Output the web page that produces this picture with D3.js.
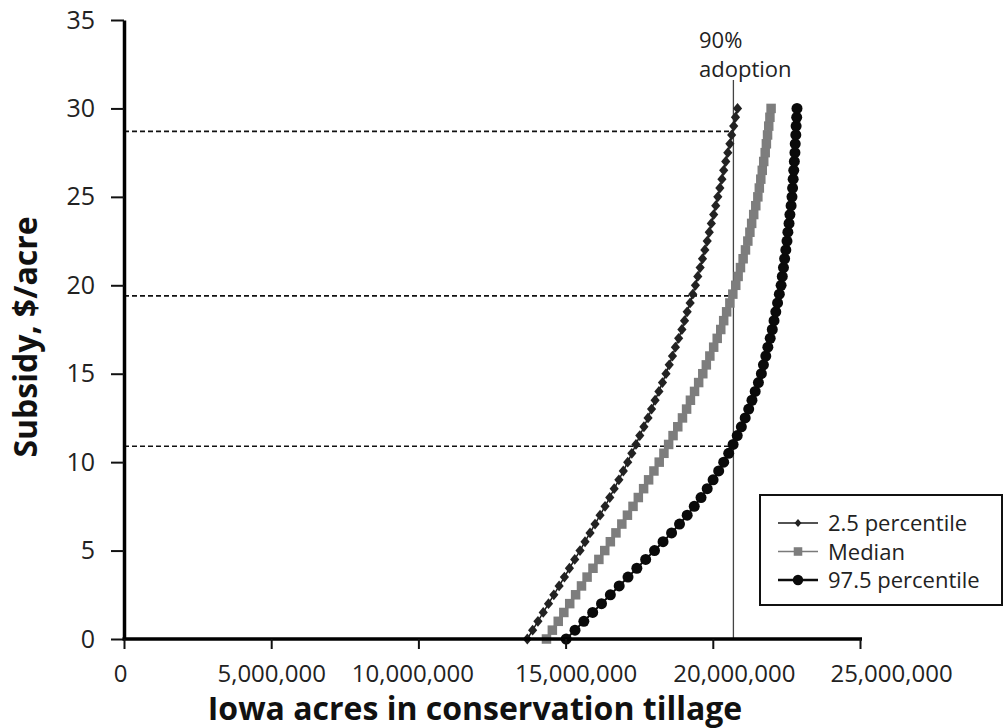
<!DOCTYPE html>
<html>
<head>
<meta charset="utf-8">
<script src="https://cdn.jsdelivr.net/npm/d3@7"></script>
<style>
  html, body { margin: 0; padding: 0; background: #fff; }
  svg { display: block; font-family: "Open Sans", "Noto Sans", sans-serif; }
</style>
</head>
<body>
<svg id="chart" width="1005" height="728"></svg>
<script>
// Subsidy levels ($/acre)
const subsidy = [
  0, 0.5, 1, 1.5, 2, 2.5, 3, 3.5, 4, 4.5, 5, 5.5, 6, 6.5, 7, 7.5, 8, 8.5, 9, 9.5,
  10, 10.5, 11, 11.5, 12, 12.5, 13, 13.5, 14, 14.5, 15, 15.5, 16, 16.5, 17, 17.5,
  18, 18.5, 19, 19.5, 20, 20.5, 21, 21.5, 22, 22.5, 23, 23.5, 24, 24.5, 25, 25.5,
  26, 26.5, 27, 27.5, 28, 28.5, 29, 29.5, 30
];

// Acres in conservation tillage (millions) at each subsidy level
const acresP025 = [
  13.70, 13.88, 14.06, 14.24, 14.42, 14.60,
  14.78, 14.96, 15.13, 15.31, 15.49,
  15.66, 15.83, 16.00, 16.17, 16.34,
  16.50, 16.65, 16.81, 16.96, 17.11,
  17.25, 17.39, 17.52, 17.66, 17.80,
  17.92, 18.04, 18.17, 18.29, 18.41,
  18.52, 18.63, 18.73, 18.84, 18.95,
  19.04, 19.13, 19.23, 19.32, 19.41,
  19.49, 19.57, 19.65, 19.73, 19.81,
  19.88, 19.95, 20.03, 20.10, 20.17,
  20.24, 20.31, 20.37, 20.44, 20.51,
  20.58, 20.64, 20.71, 20.77, 20.84
];
const acresMedian = [
  14.35, 14.55, 14.75, 14.94, 15.14, 15.34,
  15.54, 15.73, 15.93, 16.13, 16.33,
  16.52, 16.71, 16.91, 17.10, 17.29,
  17.47, 17.65, 17.82, 18.00, 18.18,
  18.34, 18.50, 18.65, 18.81, 18.97,
  19.11, 19.24, 19.38, 19.52, 19.66,
  19.78, 19.90, 20.03, 20.15, 20.27,
  20.37, 20.47, 20.58, 20.68, 20.78,
  20.86, 20.94, 21.03, 21.11, 21.19,
  21.26, 21.32, 21.39, 21.46, 21.53,
  21.58, 21.63, 21.68, 21.73, 21.78,
  21.82, 21.86, 21.90, 21.94, 21.98
];
const acresP975 = [
  15.02, 15.32, 15.62, 15.92, 16.22, 16.52,
  16.82, 17.12, 17.42, 17.72, 18.02,
  18.31, 18.60, 18.87, 19.13, 19.37,
  19.60, 19.81, 20.01, 20.20, 20.37,
  20.54, 20.69, 20.83, 20.97, 21.10,
  21.22, 21.33, 21.44, 21.55, 21.65,
  21.72, 21.80, 21.87, 21.95, 22.02,
  22.08, 22.14, 22.20, 22.26, 22.32,
  22.36, 22.40, 22.44, 22.48, 22.52,
  22.55, 22.59, 22.62, 22.66, 22.69,
  22.71, 22.73, 22.75, 22.77, 22.79,
  22.80, 22.82, 22.83, 22.85, 22.86
];

const seriesNames = ["2.5 percentile", "Median", "97.5 percentile"];

// 90% adoption level (acres) and the subsidy each series needs to reach it
const adoption90Acres = 20700000;
const subsidyAt90 = [28.7, 19.4, 10.9];
const adoptionLabel = ["90%", "adoption"];

const xTicks = [0, 5000000, 10000000, 15000000, 20000000, 25000000];
const yTicks = [0, 5, 10, 15, 20, 25, 30, 35];
const xTitle = "Iowa acres in conservation tillage";
const yTitle = "Subsidy, $/acre";

// ---------------------------------------------------------------------------
const svg = d3.select("#chart");
const MILLION = 1e6;

const x = d3.scaleLinear().domain([0, 25000000]).range([124, 860]);
const y = d3.scaleLinear().domain([0, 35]).range([639, 20]);

const series = [acresP025, acresMedian, acresP975].map((vals, i) => ({
  name: seriesNames[i],
  points: vals.map((v, j) => ({ acres: v * MILLION, subsidy: subsidy[j] }))
}));

const styles = [
  { line: "#1a1a1a", lineWidth: 1.5, fill: "#222", marker: "diamond" },
  { line: "#7a7a7a", lineWidth: 2.5, fill: "#7d7d7d", marker: "square" },
  { line: "#0d0d0d", lineWidth: 2,   fill: "#0a0a0a", marker: "circle" }
];

function drawMarker(sel, kind, fill, scale = 1) {
  if (kind === "diamond") {
    sel.append("path")
      .attr("d", `M0,${-5.4 * scale}L${4.6 * scale},0L0,${5.4 * scale}L${-4.6 * scale},0Z`)
      .attr("fill", fill);
  } else if (kind === "square") {
    const s = 9.5 * scale;
    sel.append("rect")
      .attr("x", -s / 2).attr("y", -s / 2)
      .attr("width", s).attr("height", s)
      .attr("fill", fill);
  } else {
    sel.append("circle").attr("r", 5.5 * scale).attr("fill", fill);
  }
}

// Reference lines: dashed subsidy levels and the 90% adoption line
const refs = svg.append("g");
refs.selectAll("line.level")
  .data(subsidyAt90)
  .join("line")
  .attr("class", "level")
  .attr("x1", x(0))
  .attr("x2", x(adoption90Acres))
  .attr("y1", d => y(d))
  .attr("y2", d => y(d))
  .attr("stroke", "#111")
  .attr("stroke-width", 1.6)
  .attr("stroke-dasharray", "5,3");

refs.append("line")
  .attr("x1", x(adoption90Acres))
  .attr("x2", x(adoption90Acres))
  .attr("y1", 80)
  .attr("y2", y(0))
  .attr("stroke", "#444")
  .attr("stroke-width", 1.3);

refs.selectAll("text.adopt")
  .data(adoptionLabel)
  .join("text")
  .attr("class", "adopt")
  .attr("x", 699)
  .attr("y", (d, i) => 48 + i * 29)
  .attr("font-size", 22)
  .attr("fill", "#222")
  .text(d => d);

// Curves with markers
const lineGen = d3.line().x(d => x(d.acres)).y(d => y(d.subsidy));
series.forEach((s, i) => {
  const st = styles[i];
  const g = svg.append("g");
  g.append("path")
    .attr("d", lineGen(s.points))
    .attr("fill", "none")
    .attr("stroke", st.line)
    .attr("stroke-width", st.lineWidth);
  g.selectAll("g.pt")
    .data(s.points)
    .join("g")
    .attr("class", "pt")
    .attr("transform", d => `translate(${x(d.acres)},${y(d.subsidy)})`)
    .each(function () { drawMarker(d3.select(this), st.marker, st.fill); });
});

// Axes
const tickFont = 24;
const yAxis = svg.append("g")
  .attr("transform", `translate(${x(0)},0)`)
  .call(d3.axisLeft(y).tickValues(yTicks).tickSize(13).tickSizeOuter(0).tickPadding(16));
yAxis.select(".domain").attr("stroke", "#000").attr("stroke-width", 3.5);
yAxis.selectAll(".tick line").attr("stroke", "#111").attr("stroke-width", 2);
yAxis.selectAll(".tick text")
  .attr("font-size", 25).attr("fill", "#222")
  .attr("font-family", '"Open Sans", sans-serif');

const xLabelShift = [-4, 0, -6, 10, 21, 31];
const xAxis = svg.append("g")
  .attr("transform", `translate(0,${y(0)})`)
  .call(d3.axisBottom(x).tickValues(xTicks).tickFormat(d3.format(",")).tickSize(10).tickSizeOuter(0).tickPadding(16));
xAxis.select(".domain").attr("stroke", "#000").attr("stroke-width", 3.5)
  .attr("d", `M${x(0) - 1.5},0H${x(25000000) + 2}`);
xAxis.selectAll(".tick line").attr("stroke", "#111").attr("stroke-width", 2);
xAxis.selectAll(".tick text")
  .attr("font-size", tickFont).attr("fill", "#222")
  .attr("font-family", '"Open Sans", sans-serif')
  .attr("dx", (d, i) => xLabelShift[i]);

// Axis titles
svg.append("text")
  .attr("x", 475)
  .attr("y", 720)
  .attr("text-anchor", "middle")
  .attr("font-size", 32)
  .attr("font-weight", "bold")
  .attr("fill", "#111")
  .text(xTitle);

svg.append("text")
  .attr("transform", "translate(37,337) rotate(-90)")
  .attr("text-anchor", "middle")
  .attr("font-size", 32)
  .attr("font-weight", "bold")
  .attr("fill", "#111")
  .text(yTitle);

// Legend
const legend = svg.append("g");
legend.append("rect")
  .attr("x", 760).attr("y", 495)
  .attr("width", 242).attr("height", 110)
  .attr("fill", "#fff")
  .attr("stroke", "#111")
  .attr("stroke-width", 2);

const rows = legend.selectAll("g.row")
  .data(series)
  .join("g")
  .attr("class", "row")
  .attr("transform", (d, i) => `translate(0,${523 + i * 28.5})`);
rows.append("line")
  .attr("x1", 778).attr("x2", 818)
  .attr("stroke", (d, i) => styles[i].line)
  .attr("stroke-width", (d, i) => [1.5, 1.5, 2.5][i]);
rows.each(function (d, i) {
  const m = d3.select(this).append("g").attr("transform", "translate(798,0)");
  drawMarker(m, styles[i].marker, styles[i].fill, [0.75, 0.9, 0.95][i]);
});
rows.append("text")
  .attr("x", 828)
  .attr("y", 8)
  .attr("font-size", 22)
  .attr("fill", "#222")
  .text(d => d.name);
</script>
</body>
</html>
